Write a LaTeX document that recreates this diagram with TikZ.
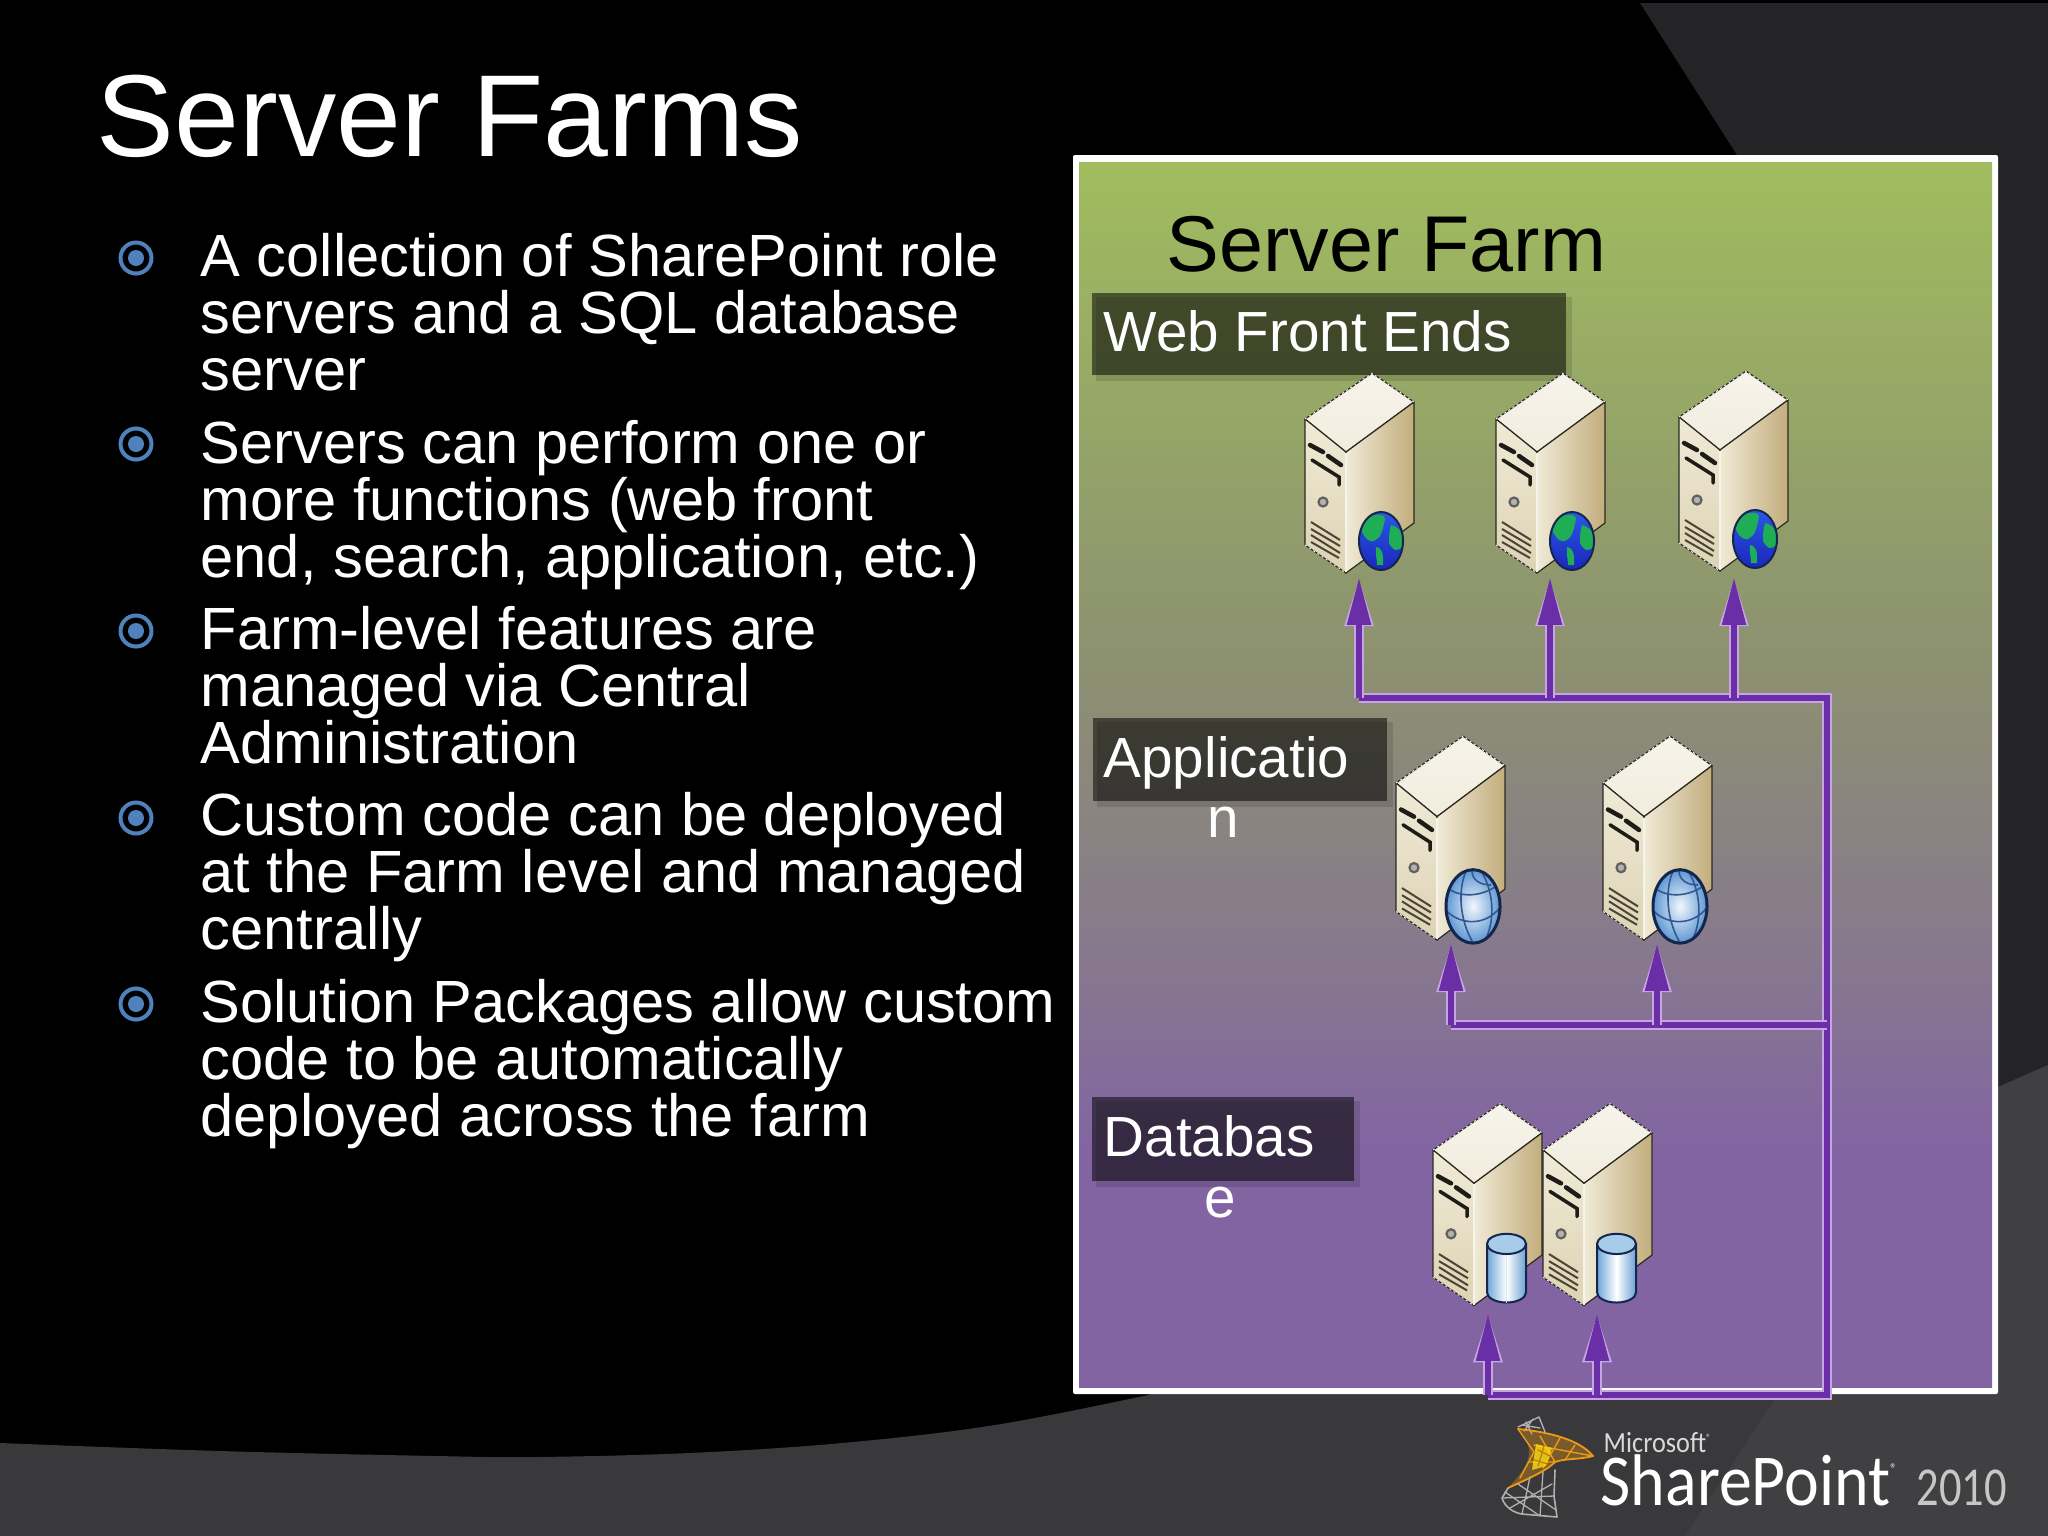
\documentclass[tikz,border=0pt]{standalone}
\usepackage{fontspec}
\setmainfont{Liberation Sans}
\newfontfamily\logoA[FakeStretch=0.9]{Carlito}
\newfontfamily\logoB[FakeStretch=0.81]{Carlito}
\usetikzlibrary{arrows.meta}
\definecolor{bgtop}{HTML}{242325}
\definecolor{bgleft}{HTML}{39383A}
\definecolor{bgright}{HTML}{403F41}
\definecolor{bulletblue}{HTML}{4F81BD}
\definecolor{connp}{HTML}{6A2EA6}
\definecolor{connl}{HTML}{C8A4E4}
\definecolor{srvdark}{HTML}{2B2A22}
\definecolor{srvslot}{HTML}{1E1C16}
\definecolor{srvvent}{HTML}{4A4536}
\definecolor{logoorange}{HTML}{EE9A14}
\definecolor{logogray}{HTML}{B0B0B0}
\definecolor{panA}{RGB}{130,100,162}
\definecolor{panB}{RGB}{135,120,142}
\definecolor{panC}{RGB}{140,145,112}
\definecolor{panD}{RGB}{160,188,94}
\pgfdeclareverticalshading{panelshade}{100bp}{
  color(0bp)=(panA);
  color(25bp)=(panA);
  color(34.7bp)=(panA);
  color(42.4bp)=(panB);
  color(54.7bp)=(panC);
  color(75bp)=(panD);
  color(100bp)=(panD)}
\tikzset{
  slidetitle/.style={anchor=base west,inner sep=0pt,text=white,font=\fontsize{33.15}{36}\selectfont},
  bodytext/.style={anchor=north west,inner sep=0pt,text=white,align=left,font=\fontsize{16.95}{16.3}\selectfont},
  bulletring/.style={circle,draw=bulletblue,line width=0.04cm,minimum size=0.31cm,inner sep=0pt},
  bulletdot/.style={circle,fill=bulletblue,minimum size=0.16cm,inner sep=0pt},
  labeltext/.style={anchor=north west,inner sep=0pt,text=white,align=left,font=\fontsize{16.1}{17.2}\selectfont},
  labelbox/.style={fill=black,opacity=0.52},
  boxshadow/.style={fill=black,opacity=0.12},
  connline/.style={connp,line width=0.065cm,line cap=butt,
     preaction={draw,connl,line width=0.095cm}},
  connarrow/.style={connp,line width=0.065cm,
     -{Triangle[length=13.6pt,width=6.4pt]},
     preaction={draw,connl,line width=0.095cm,-{Triangle[length=14pt,width=7.6pt]}}},
  server/.pic={
    \draw[srvdark,line width=0.012cm,top color=white!40!srvtop,bottom color=srvtop,line join=round]
      (0,0)--(67,-46)--(109,-17)--(41,33)--cycle;
    \draw[srvdark,line width=0.012cm,top color=srvfronta,bottom color=srvfrontb,line join=round]
      (0,0)--(41,33)--(41,154)--(0,126)--cycle;
    \draw[srvdark,line width=0.012cm,left color=srvfronta,right color=srvright,line join=round]
      (41,33)--(109,-17)--(109,104)--(41,154)--cycle;
    \draw[white,line width=0.008cm,dash pattern=on 0.02cm off 0.03cm]
      (0,0)--(67,-46)--(109,-17) (0,126)--(41,154);
    \draw[white!85!srvright,line width=0.012cm] (41,34)--(41,153);
    \draw[srvslot,line width=0.045cm,line cap=round] (5,26)--(18,33) (23,37)--(36,46);
    \draw[srvslot,line width=0.035cm,line cap=round] (7,41)--(34,58)--(34,66);
    \draw[srvslot!70!white,fill=gray!60,line width=0.022cm] (18,83) circle[radius=0.045cm];
    \draw[srvvent,line width=0.02cm] (6,103)--(35,121) (6,110)--(35,127) (6,116)--(35,134) (6,123)--(34,139);
  },
  webglobe/.pic={
    \begin{scope}
      \clip (76,122) ellipse[x radius=0.22cm,y radius=0.29cm];
      \fill[top color=webblueA,bottom color=webblueB] (50,90) rectangle (100,155);
      \fill[webgreen] (56,110)..controls(58,95)and(80,92)..(80,100)..controls(78,110)and(76,118)..(72,120)..controls(68,125)and(60,122)..cycle;
      \fill[webgreen] (86,106)..controls(94,108)and(100,115)..(98,126)..controls(94,134)and(88,132)..(84,124)..controls(84,118)and(84,112)..cycle;
      \fill[webgreen] (71,128)..controls(76,128)and(79,134)..(78,146)--(72,146)..controls(72,140)and(70,134)..cycle;
    \end{scope}
    \draw[globeline,line width=0.02cm] (76,122) ellipse[x radius=0.22cm,y radius=0.29cm];
  },
  appglobe/.pic={
    \shade[inner color=white!92!appblue,outer color=appblue] (77,121) ellipse[x radius=0.27cm,y radius=0.36cm];
    \begin{scope}
      \clip (77,121) ellipse[x radius=0.27cm,y radius=0.36cm];
      \draw[appline,line width=0.016cm]
        (53,104)..controls(65,112)and(85,112)..(102,100)
        (50,125)..controls(65,140)and(90,140)..(104,122)
        (70,86)..controls(60,110)and(66,140)..(78,158)
        (85,86)..controls(100,110)and(98,140)..(88,156)
        (76,86)..controls(76,95)and(84,100)..(95,100);
    \end{scope}
    \draw[globeline,line width=0.03cm] (77,121) ellipse[x radius=0.27cm,y radius=0.36cm];
  },
  dbcyl/.pic={
    \draw[globeline,line width=0.02cm,left color=cylA,right color=cylB,middle color=white]
      (54,93)--(54,141) arc[start angle=180,end angle=360,x radius=0.195cm,y radius=0.1cm]--(93,93)--cycle;
    \draw[globeline,line width=0.02cm,fill=cylT] (73.5,93) ellipse[x radius=0.195cm,y radius=0.1cm];
  },
}
\definecolor{srvtop}{HTML}{F1ECDD}
\definecolor{srvfronta}{HTML}{F0EAD6}
\definecolor{srvfrontb}{HTML}{DDD3B4}
\definecolor{srvright}{HTML}{C2AD7C}
\definecolor{webblueA}{HTML}{2A5BE8}
\definecolor{webblueB}{HTML}{1B22B8}
\definecolor{webgreen}{HTML}{1FAE55}
\definecolor{globeline}{HTML}{14264E}
\definecolor{appblue}{HTML}{5F97D4}
\definecolor{appline}{HTML}{31598F}
\definecolor{cylA}{HTML}{6FA6D8}
\definecolor{cylB}{HTML}{6AA0D2}
\definecolor{cylT}{HTML}{A6CCEA}
\begin{document}
\begin{tikzpicture}[x=0.01cm,y=-0.01cm]
\useasboundingbox (0,0) rectangle (2048,1536);
% background
\fill[black] (0,0) rectangle (2048,1536);
\fill[bgtop] (1640,3)--(2048,3)--(2048,1065)--(1998,1087)--(1737,155)--cycle;
\fill[bgleft] plot[smooth,tension=0.6] coordinates {(0,1443) (220,1451) (436,1456) (536,1457) (689,1453) (842,1443) (995,1425) (1148,1395)}
  --(1400,1290)--(1998,1087)--(2048,1065)--(2048,1536)--(0,1536)--cycle;
\fill[bgright] (1773,1402)--(1685,1536)--(2048,1536)--(2048,1065)--(1998,1087)--(1773,1200)--cycle;
% title
\node[slidetitle] (title) at (96,156) {Server Farms};
% bullets
\foreach \i/\yy in {1/258,2/444,3/631,4/818,5/1004}{
  \node[bulletring] (ring\i) at (136,\yy) {};
  \node[bulletdot] (dot\i) at (ring\i.center) {};
}
\node[bodytext] (item1) at (200,215.7) {\rule{0pt}{1em}A collection of SharePoint role\\servers and a SQL database\\server};
\node[bodytext] (item2) at (200,402.7) {\rule{0pt}{1em}Servers can perform one or\\more functions (web front\\end, search, application, etc.)};
\node[bodytext] (item3) at (200,588.7) {\rule{0pt}{1em}Farm-level features are\\managed via Central\\Administration};
\node[bodytext] (item4) at (200,774.7) {\rule{0pt}{1em}Custom code can be deployed\\at the Farm level and managed\\centrally};
\node[bodytext] (item5) at (200,961.7) {\rule{0pt}{1em}Solution Packages allow custom\\code to be automatically\\deployed across the farm};
% panel
\fill[white,rounded corners=0.02cm] (1073,155) rectangle (1998,1394);
\shade[shading=panelshade] (1079,162) rectangle (1992,1387);
\node[anchor=base west,inner sep=0pt,text=black,font=\fontsize{22.5}{25}\selectfont] (farmtitle) at (1166,271) {Server Farm};
% label boxes
\fill[boxshadow] (1096,297) rectangle (1572,381);
\fill[labelbox] (1092,293) rectangle (1566,375);
\fill[boxshadow] (1097,722) rectangle (1393,807);
\fill[labelbox] (1093,718) rectangle (1387,801);
\fill[boxshadow] (1096,1101) rectangle (1360,1187);
\fill[labelbox] (1092,1097) rectangle (1354,1181);
\node[labeltext] (labweb) at (1103,294.5) {\rule{0pt}{1em}Web Front Ends};
\node[labeltext] (labapp) at (1103,720) {\rule{0pt}{1em}Applicatio\\\hspace*{29.4pt}n};
\node[labeltext] (labdb) at (1103,1099.5) {\rule{0pt}{1em}Databas\\\hspace*{28.7pt}e};
% servers
\pic (webA) at (1305,419) {server};
\pic (webAg) at (1305,419) {webglobe};
\pic (webB) at (1496,419) {server};
\pic (webBg) at (1496,419) {webglobe};
\pic (webC) at (1679,417) {server};
\pic (webCg) at (1679,417) {webglobe};
\pic[yscale=1.02] (appA) at (1396,783) {server};
\pic[yscale=1.02] (appAg) at (1396,783) {appglobe};
\pic[yscale=1.02] (appB) at (1603,783) {server};
\pic[yscale=1.02] (appBg) at (1603,783) {appglobe};
\pic[yscale=1.01] (dbA) at (1433,1150) {server};
\pic[yscale=1.01] (dbAc) at (1433,1150) {dbcyl};
\draw[white!70!cylA,line width=0.012cm] (1506.5,1256)--(1506.5,1303);
\pic[yscale=1.01] (dbB) at (1543,1150) {server};
\pic[yscale=1.01] (dbBc) at (1543,1150) {dbcyl};
% connector junctions
\coordinate (tipW1) at (1359,577);
\coordinate (tipW2) at (1550,577);
\coordinate (tipW3) at (1734,577);
\coordinate (busW1) at (1359,698);
\coordinate (busW2) at (1550,698);
\coordinate (busW3) at (1734,698);
\coordinate (tipA1) at (1451,943);
\coordinate (tipA2) at (1657,943);
\coordinate (busA1) at (1451,1025);
\coordinate (busA2) at (1657,1025);
\coordinate (tipD1) at (1488,1313);
\coordinate (tipD2) at (1597,1313);
\coordinate (busD1) at (1488,1395);
\coordinate (busD2) at (1597,1395);
\coordinate (trunkTop) at (1827,698);
\coordinate (trunkMid) at (1827,1025);
\coordinate (trunkBot) at (1827,1395);
\draw[connline] (busD1)--(trunkBot)--(trunkTop)--(busW1);
\draw[connline] (busA1)--(trunkMid);
\foreach \t/\b in {tipW1/busW1,tipW2/busW2,tipW3/busW3,tipA1/busA1,tipA2/busA2,tipD1/busD1,tipD2/busD2}{
  \draw[connarrow] (\b)--(\t);
}
% logo
\begin{scope}[line cap=round,line join=round]
  \draw[logogray,line width=0.014cm] (1518,1427)--(1539,1417)--(1545,1432) (1526,1422)--(1532,1434) (1533,1419)--(1524,1431) (1522,1425)--(1540,1428);
  \fill[logoorange,opacity=0.35] (1518,1429)..controls(1550,1432)and(1580,1440)..(1593,1456)..controls(1578,1460)and(1566,1458)..(1555,1462)..controls(1545,1472)and(1525,1480)..(1508,1488)..controls(1525,1470)and(1540,1452)..cycle;
  \draw[logoorange,line width=0.018cm] (1518,1429)..controls(1550,1432)and(1580,1440)..(1593,1456)..controls(1578,1460)and(1566,1458)..(1555,1462)..controls(1545,1472)and(1525,1480)..(1508,1488);
  \draw[logoorange,line width=0.014cm] (1518,1429)--(1534,1452)--(1520,1478) (1534,1445)--(1593,1456) (1540,1436)--(1555,1462) (1560,1438)--(1543,1468) (1575,1445)--(1565,1460) (1530,1462)--(1555,1462);
  \fill[yellow!75!logoorange,opacity=0.8] (1536,1444)--(1552,1448)--(1546,1466)--(1532,1470)--cycle;
  \draw[logoorange!80!black,line width=0.012cm] (1538,1450)--(1550,1456) (1544,1446)--(1538,1466) (1534,1460)--(1548,1464);
  \draw[logogray,line width=0.016cm] (1508,1488)--(1502,1498)..controls(1505,1508)and(1515,1513)..(1522,1514)--(1557,1517)--(1554,1496)--(1555,1470);
  \draw[logogray,line width=0.013cm] (1530,1477)--(1522,1514) (1543,1472)--(1540,1516) (1502,1498)--(1554,1496) (1510,1508)--(1552,1484) (1518,1484)--(1556,1510) (1505,1492)--(1540,1516);
\end{scope}
\node[anchor=base west,inner sep=0pt,text=white!85!black,font=\logoA\fontsize{8.3}{9}\selectfont] (ms) at (1603,1452) {Microsoft\raisebox{3pt}{\fontsize{3}{3}\selectfont ®}};
\node[anchor=base west,inner sep=0pt,text=white,font=\logoA\fontsize{20.8}{22}\selectfont] (sp) at (1600,1505) {SharePoint\raisebox{9pt}{\fontsize{4}{4}\selectfont ®}};
\node[anchor=base west,inner sep=0pt,text=white!78!black,font=\logoB\fontsize{15.6}{17}\selectfont] (yr) at (1916,1505) {2010};
\end{tikzpicture}
\end{document}
